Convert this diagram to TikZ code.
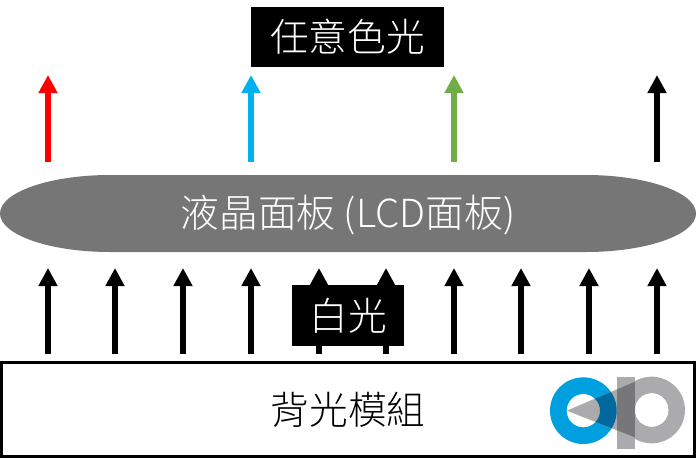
\documentclass[tikz,border=0pt]{standalone}
\usepackage{fontspec}
\setmainfont{Noto Sans CJK TC Light}
\usetikzlibrary{arrows.meta}
\definecolor{panelgray}{HTML}{767676}
\definecolor{logoblue}{HTML}{009FE0}
\definecolor{logodark}{HTML}{00689C}
\definecolor{logogray}{HTML}{ABABAE}
\definecolor{logomid}{HTML}{77777A}
\definecolor{lightblue}{HTML}{00B0F0}
\definecolor{lightgreen}{HTML}{70AD47}
\tikzset{
    lightarrow/.style={line width=4.5pt, -{Triangle[length=13.5pt,width=13.5pt]}},
    blacklabel/.style={fill=black, text=white, font=\fontsize{29}{29}\selectfont, inner sep=0pt},
}
\begin{document}
\begin{tikzpicture}[x=0.75pt,y=-0.75pt]
        \useasboundingbox (0, 0) rectangle (696, 458);
        %free ends of the coloured arrows
        \coordinate (r1) at (48, 162);
        \coordinate (r2) at (48, 75);
        \coordinate (c1) at (251, 162);
        \coordinate (c2) at (251, 75);
        \coordinate (g1) at (454, 162);
        \coordinate (g2) at (454, 75);
        \coordinate (k1) at (657, 162);
        \coordinate (k2) at (657, 75);
        %free ends of the white light arrows
        \coordinate (a1) at (48, 354);
        \coordinate (a2) at (48, 268);
        \coordinate (b1) at (115, 354);
        \coordinate (b2) at (115, 268);
        \coordinate (d1) at (183, 354);
        \coordinate (d2) at (183, 268);
        \coordinate (e1) at (251, 354);
        \coordinate (e2) at (251, 268);
        \coordinate (f1) at (319, 354);
        \coordinate (f2) at (319, 268);
        \coordinate (h1) at (386, 354);
        \coordinate (h2) at (386, 268);
        \coordinate (i1) at (454, 354);
        \coordinate (i2) at (454, 268);
        \coordinate (j1) at (521, 354);
        \coordinate (j2) at (521, 268);
        \coordinate (l1) at (589, 354);
        \coordinate (l2) at (589, 268);
        \coordinate (m1) at (657, 354);
        \coordinate (m2) at (657, 268);
        %draw arrows
        \draw[lightarrow, red] (r1) -- (r2);
        \draw[lightarrow, lightblue] (c1) -- (c2);
        \draw[lightarrow, lightgreen] (g1) -- (g2);
        \draw[lightarrow] (k1) -- (k2);
        \draw[lightarrow] (a1) -- (a2);
        \draw[lightarrow] (b1) -- (b2);
        \draw[lightarrow] (d1) -- (d2);
        \draw[lightarrow] (e1) -- (e2);
        \draw[lightarrow] (f1) -- (f2);
        \draw[lightarrow] (h1) -- (h2);
        \draw[lightarrow] (i1) -- (i2);
        \draw[lightarrow] (j1) -- (j2);
        \draw[lightarrow] (l1) -- (l2);
        \draw[lightarrow] (m1) -- (m2);
        %panel
        \fill[panelgray] (0, 213.5) .. controls (0, 192.3) and (49.5, 175) .. (110, 175) -- (586, 175) .. controls (646.5, 175) and (696, 192.3) .. (696, 213.5) .. controls (696, 234.7) and (646.5, 252) .. (586, 252) -- (110, 252) .. controls (49.5, 252) and (0, 234.7) .. (0, 213.5) -- cycle;
        \node[text=white, font=\fontsize{29}{29}\selectfont] (panel) at (348, 215.5) {液晶面板 (LCD面板)};
        %labels
        \node[blacklabel, minimum width=144.75pt, minimum height=45pt] (anycolor) at (347.5, 37) {任意色光};
        \node[blacklabel, minimum width=84pt, minimum height=45.75pt] (white) at (348, 315.5) {白光};
        %backlight
        \node[draw=black, line width=2.25pt, minimum width=519.75pt, minimum height=70.5pt, inner sep=0pt, font=\fontsize{29}{29}\selectfont] (backlight) at (348, 409.5) {背光模組};
        %logo
        \begin{scope}[shift={(530, 350)}, x=0.25pt, y=-0.25pt]
            \fill[logoblue, even odd rule] (160, 182) circle (100) (160, 182) circle (50);
            \fill[logogray, even odd rule] (365, 180) circle (100) (365, 180) circle (50);
            \fill[white] (262, 70) rectangle (315, 290);
            \fill[logogray] (262, 82) rectangle (315, 298);
            \fill[white] (365, 180) circle (50);
            \begin{scope}
                \clip (110, 182) -- (315, 95) -- (315, 262) -- cycle;
                \fill[logogray] (100, 80) rectangle (320, 290);
                \fill[logodark, even odd rule] (160, 182) circle (100) (160, 182) circle (50);
                \fill[logomid] (262, 82) rectangle (315, 298);
            \end{scope}
        \end{scope}
\end{tikzpicture}
\end{document}
